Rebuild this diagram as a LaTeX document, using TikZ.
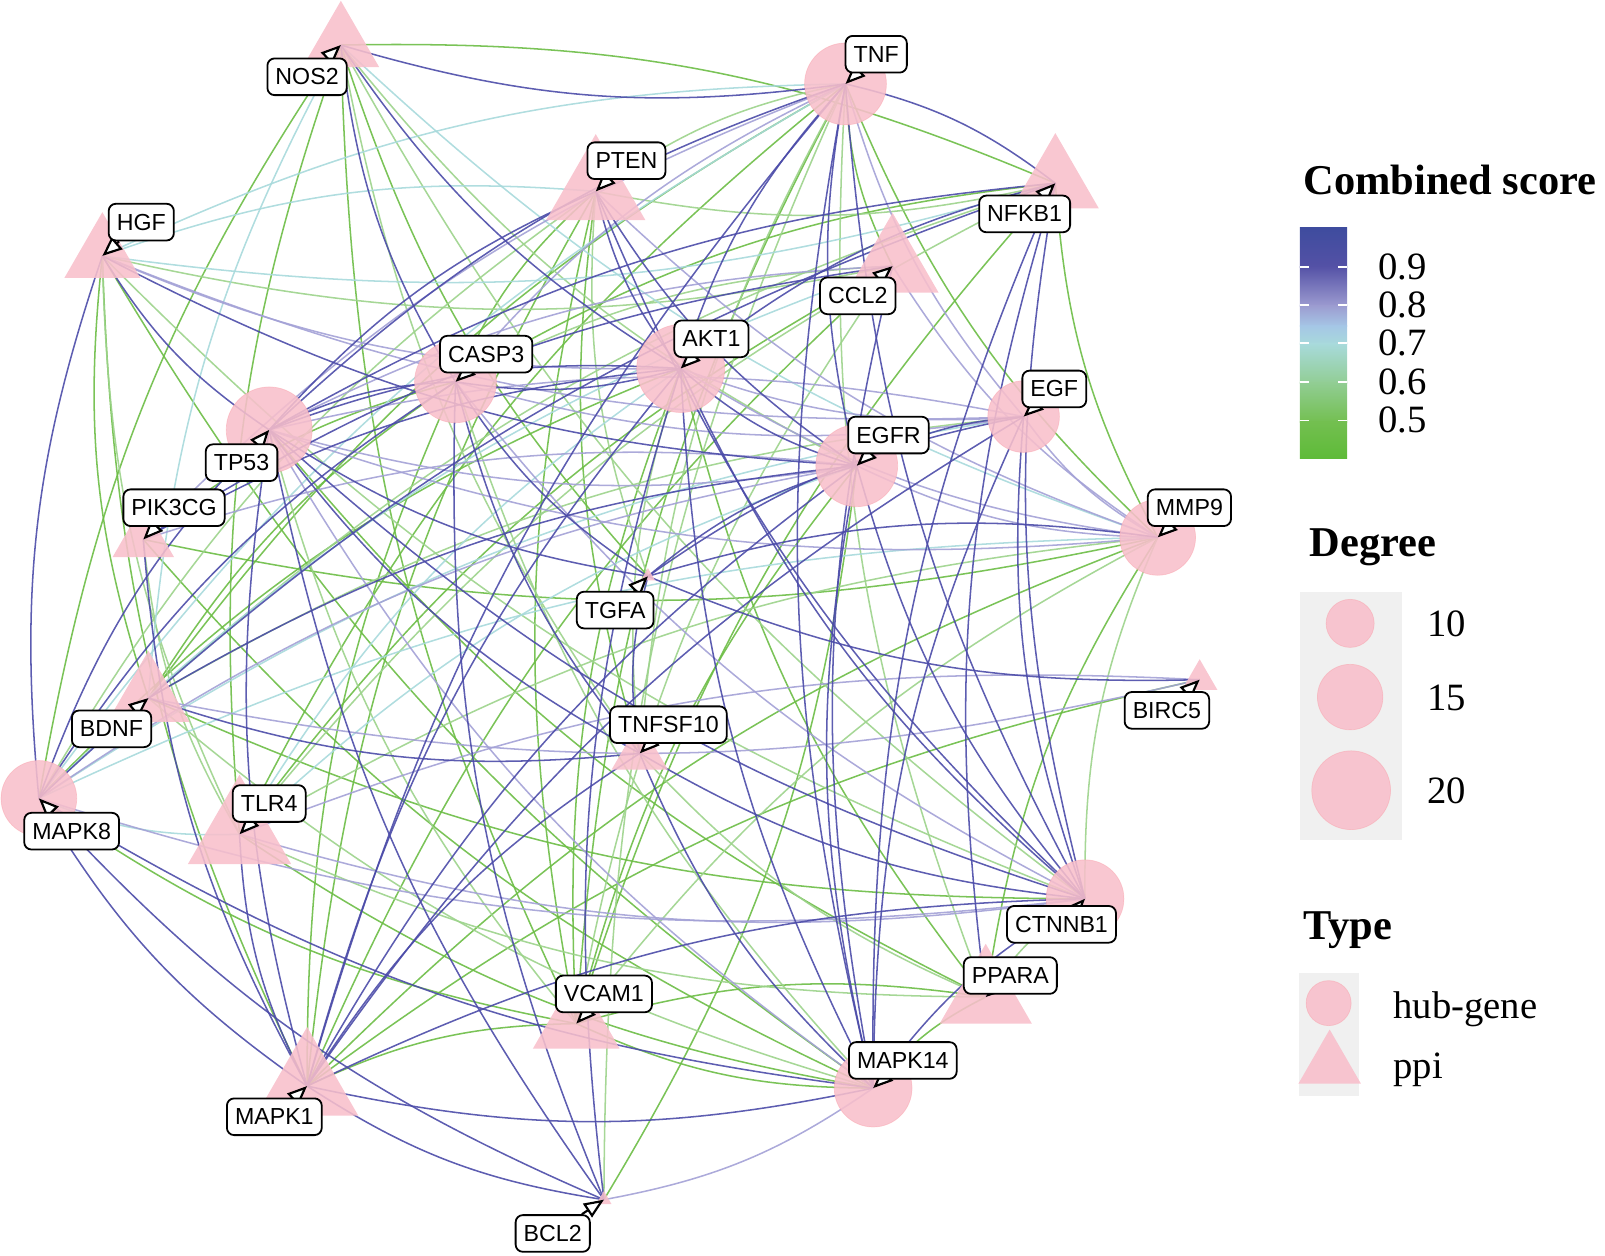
\documentclass[tikz,border=0pt]{standalone}
\usepackage{fontspec}
\setmainfont{Liberation Serif}
\newfontfamily\labfont{Liberation Sans}
\usepackage{tikz}
\usetikzlibrary{shapes.geometric}
\usetikzlibrary{arrows.meta}
\pgfdeclarelayer{edgelayer}
\pgfdeclarelayer{nodelayer}
\pgfdeclarelayer{pointerlayer}
\pgfsetlayers{edgelayer,nodelayer,pointerlayer,main}
\definecolor{nodepink}{HTML}{F8BFCB}
\definecolor{legendgray}{HTML}{F0F0F0}
\definecolor{sc9}{HTML}{4B4BA8}
\definecolor{sc8}{HTML}{A3A1D6}
\definecolor{sc7}{HTML}{A7D9DB}
\definecolor{sc6}{HTML}{9CD38B}
\definecolor{sc5}{HTML}{6CBD45}
\definecolor{bar0}{HTML}{3E4C9E}
\definecolor{bar1}{HTML}{5451A6}
\definecolor{bar2}{HTML}{9C9BD0}
\definecolor{bar3}{HTML}{A5C6E6}
\definecolor{bar4}{HTML}{A8DADB}
\definecolor{bar5}{HTML}{91CD93}
\definecolor{bar6}{HTML}{73BF50}
\definecolor{bar7}{HTML}{5EBB38}
\tikzstyle{hub}=[circle, fill=nodepink, fill opacity=0.88, draw=nodepink!80!red, draw opacity=0.4, inner sep=0pt]
\tikzstyle{ppi}=[regular polygon, regular polygon sides=3, fill=nodepink, fill opacity=0.88, inner sep=0pt]
\tikzstyle{genelab}=[draw, fill=white, line width=1pt, rounded corners=4pt, inner xsep=4.5pt, inner ysep=0pt, minimum height=20.4pt, font=\labfont\fontsize{12.9}{14}\selectfont]
\tikzstyle{pointer}=[-{Triangle[length=11pt, width=9pt, fill=white]}, line width=1.2pt]
\tikzstyle{e9}=[draw=sc9, line width=0.85pt, opacity=0.9]
\tikzstyle{e8}=[draw=sc8, line width=0.85pt, opacity=0.9]
\tikzstyle{e7}=[draw=sc7, line width=0.85pt, opacity=0.9]
\tikzstyle{e6}=[draw=sc6, line width=0.85pt, opacity=0.9]
\tikzstyle{e5}=[draw=sc5, line width=0.85pt, opacity=0.9]
\tikzstyle{legtitle}=[anchor=base west, inner sep=0pt, font=\fontsize{23.6}{28}\selectfont\bfseries]
\tikzstyle{legval}=[anchor=base west, inner sep=0pt, font=\fontsize{21.5}{25}\selectfont]

\begin{document}
\begin{tikzpicture}[x=0.02cm, y=-0.02cm]
	\useasboundingbox (0,0) rectangle (1568,1227);
	\begin{pgfonlayer}{nodelayer}
		\node [style=ppi, minimum size=1.73cm] (NOS2) at (333, 44) {};
		\node [style=hub, minimum size=1.60cm] (TNF) at (826, 82) {};
		\node [style=ppi, minimum size=2.24cm] (PTEN) at (582, 187) {};
		\node [style=ppi, minimum size=1.71cm] (HGF) at (100, 250) {};
		\node [style=ppi, minimum size=1.96cm] (NFKB1) at (1031, 179) {};
		\node [style=ppi, minimum size=2.08cm] (CCL2) at (872, 260) {};
		\node [style=hub, minimum size=1.60cm] (CASP3) at (445, 373) {};
		\node [style=hub, minimum size=1.72cm] (AKT1) at (665, 360) {};
		\node [style=hub, minimum size=1.40cm] (EGF) at (1000, 407) {};
		\node [style=hub, minimum size=1.68cm] (TP53) at (263, 420) {};
		\node [style=hub, minimum size=1.60cm] (EGFR) at (837, 455) {};
		\node [style=ppi, minimum size=1.39cm] (PIK3CG) at (140, 527) {};
		\node [style=hub, minimum size=1.48cm] (MMP9) at (1131, 525) {};
		\node [style=ppi, minimum size=0.32cm] (TGFA) at (633, 563) {};
		\node [style=ppi, minimum size=1.85cm] (BDNF) at (145, 682) {};
		\node [style=ppi, minimum size=0.80cm] (BIRC5) at (1172, 664) {};
		\node [style=ppi, minimum size=1.27cm] (TNFSF10) at (625, 736) {};
		\node [style=hub, minimum size=1.48cm] (MAPK8) at (38, 780) {};
		\node [style=ppi, minimum size=2.33cm] (TLR4) at (234, 815) {};
		\node [style=hub, minimum size=1.52cm] (CTNNB1) at (1060, 878) {};
		\node [style=ppi, minimum size=2.08cm] (PPARA) at (963, 974) {};
		\node [style=ppi, minimum size=1.96cm] (VCAM1) at (563, 1000) {};
		\node [style=hub, minimum size=1.52cm] (MAPK14) at (853, 1063) {};
		\node [style=ppi, minimum size=2.31cm] (MAPK1) at (300, 1061) {};
		\node [style=ppi, minimum size=0.34cm] (BCL2) at (590, 1172) {};
	\end{pgfonlayer}
	\begin{pgfonlayer}{edgelayer}
		% combined score 0.5
		\foreach \a/\b in {NFKB1/NOS2, NOS2/MAPK8, NOS2/TLR4, NOS2/TGFA, NOS2/VCAM1,
			TNF/CCL2, TNF/MMP9, TNF/VCAM1, TNF/TLR4, TNF/BDNF, PTEN/MAPK1, PTEN/CASP3,
			PTEN/TNFSF10, PTEN/VCAM1, HGF/MAPK1, HGF/BDNF, HGF/MAPK14, NFKB1/CASP3,
			NFKB1/MMP9, NFKB1/VCAM1, CCL2/TLR4, CCL2/MAPK1, CASP3/BDNF, CASP3/PIK3CG,
			CASP3/MAPK1, AKT1/VCAM1, AKT1/PPARA, AKT1/MAPK8, TP53/PPARA, EGFR/VCAM1,
			PIK3CG/MMP9, PIK3CG/MAPK14, MMP9/MAPK1, MMP9/PPARA, BDNF/CTNNB1, BIRC5/MAPK1,
			MAPK8/VCAM1, TLR4/MAPK14, PPARA/MAPK14, PPARA/VCAM1, VCAM1/MAPK14,
			VCAM1/MAPK1, BCL2/EGFR}
			\draw [style=e5] (\a.center) to[bend right=12] (\b.center);
		% combined score 0.6
		\foreach \a/\b in {NOS2/EGFR, NOS2/CTNNB1, NOS2/TNFSF10, TNF/PPARA, TNF/BCL2,
			TNF/TNFSF10, TNF/PTEN, PTEN/NFKB1, PTEN/TGFA, PTEN/MAPK8, HGF/CCL2, HGF/TLR4,
			HGF/CTNNB1, NFKB1/TLR4, NFKB1/BDNF, CCL2/VCAM1, CCL2/CASP3, CASP3/MAPK14,
			AKT1/TNFSF10, EGF/BDNF, TP53/VCAM1, PIK3CG/TLR4, MMP9/TLR4, MMP9/CTNNB1,
			MMP9/VCAM1, BDNF/MAPK14, TNFSF10/PPARA, TLR4/PPARA, CTNNB1/PPARA}
			\draw [style=e6] (\a.center) to[bend right=12] (\b.center);
		% combined score 0.7
		\foreach \a/\b in {NOS2/BDNF, NOS2/MMP9, TNF/MAPK8, TNF/HGF, PTEN/HGF,
			HGF/NFKB1, CCL2/MAPK8, AKT1/TLR4, EGF/MAPK8, EGFR/TLR4, MMP9/MAPK8, MAPK8/TLR4}
			\draw [style=e7] (\a.center) to[bend right=12] (\b.center);
		% combined score 0.8
		\foreach \a/\b in {TNF/CASP3, TNF/EGF, TNF/PIK3CG, PTEN/MMP9, HGF/EGF, HGF/AKT1,
			CCL2/TP53, CCL2/MMP9, CASP3/CTNNB1, CASP3/EGF, AKT1/EGF, AKT1/MMP9,
			EGF/MMP9, EGF/TP53, TP53/MAPK14, TP53/EGFR, TP53/MMP9, EGFR/MMP9,
			EGFR/PIK3CG, EGFR/MAPK8, BDNF/BIRC5, BIRC5/TLR4, MAPK8/CTNNB1, TLR4/CTNNB1,
			BCL2/MAPK14}
			\draw [style=e8] (\a.center) to[bend right=12] (\b.center);
		% combined score 0.9
		\foreach \a/\b in {NOS2/TNF, NOS2/CASP3, NOS2/AKT1, NFKB1/TNF, TNF/AKT1, TNF/TP53,
			TNF/EGFR, TNF/MAPK14, TNF/MAPK1, TNF/CTNNB1, PTEN/AKT1, PTEN/TP53, PTEN/EGFR,
			PTEN/CTNNB1, HGF/EGFR, HGF/TP53, HGF/MAPK8, NFKB1/TP53, NFKB1/CTNNB1,
			NFKB1/MAPK14, NFKB1/MAPK8, NFKB1/PPARA, NFKB1/AKT1, CCL2/PIK3CG, CCL2/MAPK14,
			CASP3/AKT1, CASP3/TP53, CASP3/TNFSF10, CASP3/BCL2, CASP3/MAPK8, CASP3/TGFA,
			AKT1/TP53, AKT1/EGFR, AKT1/MAPK1, AKT1/CTNNB1, AKT1/MAPK14, AKT1/BCL2,
			AKT1/PIK3CG, EGF/EGFR, EGF/MAPK1, EGF/TGFA, EGF/CTNNB1, EGF/MAPK14,
			TP53/CTNNB1, TP53/BCL2, TP53/MAPK8, TP53/TGFA, TP53/MAPK1, TP53/TNFSF10,
			EGFR/TGFA, EGFR/MAPK1, EGFR/CTNNB1, EGFR/MAPK14, EGFR/BDNF, PIK3CG/MAPK1,
			MMP9/TGFA, TGFA/BIRC5, TGFA/TNFSF10, BDNF/TNFSF10, TNFSF10/CTNNB1,
			TNFSF10/MAPK14, TNFSF10/MAPK1, MAPK8/MAPK14, MAPK8/MAPK1, MAPK8/BCL2,
			TLR4/MAPK1, CTNNB1/MAPK14, CTNNB1/MAPK1, MAPK1/MAPK14, MAPK1/BCL2}
			\draw [style=e9] (\a.center) to[bend right=12] (\b.center);
	\end{pgfonlayer}
	% gene labels
	\node [style=genelab] (lNOS2) at (300, 75) {NOS2};
	\node [style=genelab] (lTNF) at (856, 53) {TNF};
	\node [style=genelab] (lPTEN) at (612, 157) {PTEN};
	\node [style=genelab] (lHGF) at (138, 217) {HGF};
	\node [style=genelab] (lNFKB1) at (1001, 209) {NFKB1};
	\node [style=genelab] (lCCL2) at (838, 289) {CCL2};
	\node [style=genelab] (lCASP3) at (475, 346) {CASP3};
	\node [style=genelab] (lAKT1) at (695, 331) {AKT1};
	\node [style=genelab] (lEGF) at (1030, 380) {EGF};
	\node [style=genelab] (lTP53) at (236, 452) {TP53};
	\node [style=genelab] (lEGFR) at (868, 425) {EGFR};
	\node [style=genelab] (lPIK3CG) at (170, 496) {PIK3CG};
	\node [style=genelab] (lMMP9) at (1162, 496) {MMP9};
	\node [style=genelab] (lTGFA) at (601, 596) {TGFA};
	\node [style=genelab] (lBDNF) at (109, 712) {BDNF};
	\node [style=genelab] (lBIRC5) at (1140, 694) {BIRC5};
	\node [style=genelab] (lTNFSF10) at (653, 708) {TNFSF10};
	\node [style=genelab] (lMAPK8) at (70, 812) {MAPK8};
	\node [style=genelab] (lTLR4) at (263, 785) {TLR4};
	\node [style=genelab] (lCTNNB1) at (1037, 903) {CTNNB1};
	\node [style=genelab] (lPPARA) at (987, 953) {PPARA};
	\node [style=genelab] (lVCAM1) at (590, 971) {VCAM1};
	\node [style=genelab] (lMAPK14) at (882, 1036) {MAPK14};
	\node [style=genelab] (lMAPK1) at (268, 1091) {MAPK1};
	\node [style=genelab] (lBCL2) at (540, 1205) {BCL2};
	\begin{pgfonlayer}{pointerlayer}
		\foreach \g in {NOS2, TNF, PTEN, HGF, NFKB1, CCL2, CASP3, AKT1, EGF, TP53, EGFR,
			PIK3CG, MMP9, TGFA, BDNF, BIRC5, TNFSF10, MAPK8, TLR4, CTNNB1, PPARA, VCAM1,
			MAPK14, MAPK1, BCL2}
			\draw [style=pointer] (l\g) to (\g.center);
	\end{pgfonlayer}
	% legend: combined score
	\node [style=legtitle] (scoretitle) at (1273, 190) {Combined score};
	\foreach \ya/\yb/\ca/\cb in {222/261/bar0/bar1, 260/299/bar1/bar2, 298/319/bar2/bar3,
		318/337/bar3/bar4, 336/375/bar4/bar5, 374/413/bar5/bar6, 412/448/bar6/bar7}
		\shade [top color=\ca, bottom color=\cb] (1270, \ya) rectangle (1316, \yb);
	\foreach \y/\v in {261/0.9, 298/0.8, 335/0.7, 373/0.6, 411/0.5} {
		\draw [white, line width=0.8pt] (1270, \y) -- (1279, \y);
		\draw [white, line width=0.8pt] (1307, \y) -- (1316, \y);
		\node [style=legval] (val\y) at (1346, \y+12) {\v};
	}
	% legend: degree
	\node [style=legtitle] (degtitle) at (1279, 544) {Degree};
	\fill [legendgray] (1270, 578) rectangle (1370, 821);
	\node [style=hub, minimum size=0.94cm] (deg10) at (1319, 609) {};
	\node [style=hub, minimum size=1.28cm] (deg15) at (1319, 681) {};
	\node [style=hub, minimum size=1.54cm] (deg20) at (1320, 772) {};
	\node [style=legval] (ldeg10) at (1394, 622) {10};
	\node [style=legval] (ldeg15) at (1394, 694) {15};
	\node [style=legval] (ldeg20) at (1394, 785) {20};
	% legend: type
	\node [style=legtitle] (typetitle) at (1273, 918) {Type};
	\fill [legendgray] (1269, 951) rectangle (1328, 1071);
	\node [style=hub, minimum size=0.88cm] (typehub) at (1298, 980) {};
	\node [style=ppi, minimum size=1.41cm] (typeppi) at (1299, 1041) {};
	\node [style=legval] (lhub) at (1361, 995) {hub-gene};
	\node [style=legval] (lppi) at (1361, 1054) {ppi};
\end{tikzpicture}
\end{document}
